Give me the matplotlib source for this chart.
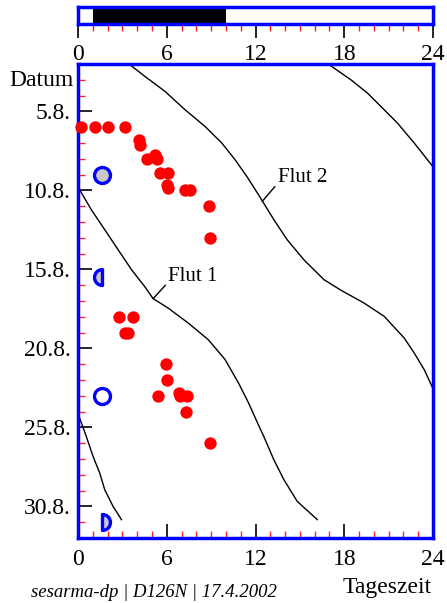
import numpy as np
import matplotlib
matplotlib.use("Agg")
import matplotlib.pyplot as plt
from matplotlib.path import Path
from matplotlib.ticker import MultipleLocator

plt.rcParams['font.family'] = ['Liberation Serif', 'DejaVu Serif']

# Beobachtungen (Tageszeit in h, Tag im August)
punkt_h = [0.2, 1.15, 2.05, 3.2, 4.1, 4.2, 4.65, 5.2, 5.35, 5.55, 6.1, 6.0, 6.1,
           7.25, 7.6, 8.85, 8.95, 2.75, 3.7, 3.2, 3.4, 5.95, 6.0, 5.4, 6.8, 6.9,
           7.4, 7.3, 8.9]
punkt_d = [6, 6, 6, 6, 6.8, 7.1, 8, 7.75, 8, 8.9, 8.9, 9.65, 9.85,
           10, 10, 11, 13, 18, 18, 19, 19, 21, 22, 23, 22.8, 23,
           23, 24, 26]

# Mondphasen
mond_h = [1.6, 1.6, 1.6, 1.6]
mond_d = [9, 15.5, 23, 31]

# Flutlinien
flut1_h = [0.0, 0.11, 0.9, 1.81, 2.71, 3.62, 4.52, 5.08, 6.1, 7.46, 8.81, 9.94,
           10.85, 11.53, 12.2, 12.56, 13.24, 13.92, 14.82, 16.18]
flut1_d = [9.8, 9.96, 11.22, 12.49, 13.75, 15.02, 16.1, 16.85, 17.45, 18.4, 19.45, 20.7,
           22.19, 23.45, 24.85, 25.57, 27.05, 28.31, 29.68, 30.84]
flut2_h = [3.45, 4.52, 5.88, 7.23, 8.59, 9.72, 10.62, 11.41, 12.2, 13.24, 14.14, 15.27,
           16.63, 17.8, 19.34, 20.7, 22.05, 22.73, 23.41, 24.0]
flut2_d = [2.0, 2.78, 3.73, 4.89, 5.95, 7.0, 8.06, 9.11, 10.27, 11.85, 13.12, 14.39,
           15.65, 16.33, 17.13, 17.97, 19.34, 20.29, 21.35, 22.55]
flut3_h = [16.9, 17.08, 18.44, 19.57, 20.47, 21.6, 22.73, 24.0]
flut3_d = [2.0, 2.11, 2.99, 3.84, 4.68, 5.74, 7.0, 8.5]
flut0_h = [0.0, 0.11, 0.56, 1.02, 1.47, 1.81, 2.37, 2.94]
flut0_d = [24.15, 24.41, 25.57, 26.84, 27.89, 28.95, 30.0, 30.84]

# Dunkelheit (Balken oben)
dunkel_von = 1
dunkel_bis = 10

y_ticks = [5, 10, 15, 20, 25, 30]
y_labels = ["5.8.", "10.8.", "15.8.", "20.8.", "25.8.", "30.8."]

blau = "#0000ff"
rot = "#ff2020"

fig = plt.figure(figsize=(4.47, 6.03), dpi=100)

# --- oberer Balken
axb = fig.add_axes([0.1745, 0.9597, 0.7942, 0.0282])
axb.barh(0, dunkel_bis - dunkel_von, left=dunkel_von, height=1, color="black")
axb.set_xlim(0, 24)
axb.set_ylim(-0.5, 0.5)
axb.set_yticks([])
axb.xaxis.set_major_locator(MultipleLocator(6))
axb.xaxis.set_minor_locator(MultipleLocator(1))
axb.tick_params(axis="x", which="major", direction="out", length=10, width=1.2,
                color="black", labelsize=17, pad=4)
axb.tick_params(axis="x", which="minor", direction="out", length=5, width=1, color=rot)
for s in axb.spines.values():
    s.set_color(blau)
    s.set_linewidth(2.5)

# --- Hauptdiagramm
ax = fig.add_axes([0.1745, 0.1078, 0.7942, 0.786])
ax.set_xlim(0, 24)
ax.set_ylim(32, 2)

for hh, dd in [(flut1_h, flut1_d), (flut2_h, flut2_d), (flut3_h, flut3_d), (flut0_h, flut0_d)]:
    ax.plot(hh, dd, color="black", lw=1.0)

ax.plot(punkt_h, punkt_d, "o", color="#ff0000", ms=8.9, mec="none", clip_on=False, zorder=3)

# Mondsymbole
arc = Path.arc(90, 270)
halb_links = Path(np.concatenate([arc.vertices, [[0, 0], [0, 0]]]),
                  list(arc.codes) + [Path.LINETO, Path.CLOSEPOLY])
arc2 = Path.arc(-90, 90)
halb_rechts = Path(np.concatenate([arc2.vertices, [[0, 0], [0, 0]]]),
                   list(arc2.codes) + [Path.LINETO, Path.CLOSEPOLY])
ax.plot(mond_h[0], mond_d[0], "o", ms=11.5, mfc="#c8c8c8", mec=blau, mew=2.4, zorder=4)
ax.plot(mond_h[1], mond_d[1], marker=halb_links, ms=11.5, mfc="#c8c8c8", mec=blau, mew=2.4, zorder=4)
ax.plot(mond_h[2], mond_d[2], "o", ms=11.5, mfc="white", mec=blau, mew=2.4, zorder=4)
ax.plot(mond_h[3], mond_d[3], marker=halb_rechts, ms=11.5, mfc="#c8c8c8", mec=blau, mew=2.4, zorder=4)

ax.annotate("Flut 1", xy=(5.08, 16.85), xytext=(6.1, 15.45), fontsize=15, va="center", ha="left",
            arrowprops=dict(arrowstyle="-", color="black", lw=1, shrinkA=0, shrinkB=0, relpos=(-0.02, 0.15)))
ax.annotate("Flut 2", xy=(12.45, 10.7), xytext=(13.5, 9.2), fontsize=15, va="center", ha="left",
            arrowprops=dict(arrowstyle="-", color="black", lw=1, shrinkA=0, shrinkB=0, relpos=(-0.02, 0.15)))

ax.xaxis.set_major_locator(MultipleLocator(6))
ax.xaxis.set_minor_locator(MultipleLocator(1))
ax.set_yticks(y_ticks)
ax.set_yticklabels(y_labels)
ax.yaxis.set_minor_locator(MultipleLocator(1))
ax.tick_params(which="both", direction="in", top=False, right=False)
ax.tick_params(which="major", length=10, width=1.2, color="black", labelsize=17, pad=5)
ax.tick_params(axis="x", which="major", pad=8)
ax.tick_params(which="minor", length=5, width=1, color=rot)
for s in ax.spines.values():
    s.set_color(blau)
    s.set_linewidth(2.5)

fig.text(0.092, 0.867, "Datum", fontsize=17, ha="center", va="center")
fig.text(0.866, 0.026, "Tageszeit", fontsize=17, ha="center", va="center")
fig.text(0.345, 0.017, "sesarma-dp | D126N | 17.4.2002", fontsize=13.5, style="italic",
         ha="center", va="center")

fig.savefig("out.png", dpi=100)
